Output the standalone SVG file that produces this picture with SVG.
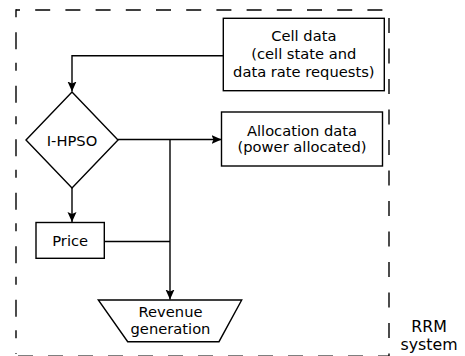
<svg xmlns="http://www.w3.org/2000/svg" width="465" height="356" viewBox="0 0 465 356">
<style>
  .box { fill: #fff; stroke: #000; stroke-width: 1.4; }
  .dash { fill: none; stroke: #000; stroke-width: 1.4; }
  .conn { fill: none; stroke: #000; stroke-width: 1.4; }
  text { font-family: "DejaVu Sans", "Liberation Sans", sans-serif; font-size: 14.7px; fill: #000; text-anchor: middle; }
  .big { font-size: 15.8px; }
</style>
<defs>
  <marker id="arr" markerUnits="userSpaceOnUse" markerWidth="11" markerHeight="10" refX="10" refY="4.5" orient="auto">
    <path d="M0,0 L10,4.5 L0,9 L2,4.5 z" fill="#000"/>
  </marker>
</defs>
<rect x="0" y="0" width="465" height="356" fill="#fff"/>
<g id="rrm-system">
  <line class="dash" x1="16" y1="10" x2="385" y2="10" stroke-dasharray="15 15.2" stroke-dashoffset="11"/>
  <line class="dash" x1="16" y1="9.3" x2="16" y2="354" stroke-dasharray="8 15 17 13.5" />
  <line class="dash" x1="389" y1="18" x2="389" y2="356" stroke-dasharray="15 15.5"/>
  <line class="dash" x1="18" y1="356.3" x2="389" y2="356.3" stroke-dasharray="15 15" stroke="#888"/>
  <text class="big" x="429" y="332">RRM</text>
  <text class="big" x="429" y="350">system</text>
</g>
<g id="connectors">
  <path class="conn" d="M223.3,55.7 H72 V91.5" marker-end="url(#arr)"/>
  <path class="conn" d="M118,139.5 H221.5" marker-end="url(#arr)"/>
  <path class="conn" d="M170,139.5 V299.5" marker-end="url(#arr)"/>
  <path class="conn" d="M72,188 V222" marker-end="url(#arr)"/>
  <path class="conn" d="M104.3,241.5 H170"/>
</g>
<g id="cell-data">
  <rect class="box" x="223.3" y="18.3" width="161" height="72.4"/>
  <text x="303.8" y="41">Cell data</text>
  <text x="303.8" y="59">(cell state and</text>
  <text x="303.8" y="77">data rate requests)</text>
</g>
<g id="i-hpso">
  <polygon class="box" points="72,92 118,140 72,188 26,140"/>
  <text x="72" y="145.5">I-HPSO</text>
</g>
<g id="allocation-data">
  <rect class="box" x="221.5" y="112" width="161" height="54"/>
  <text x="302" y="136">Allocation data</text>
  <text x="302" y="152">(power allocated)</text>
</g>
<g id="price">
  <rect class="box" x="36" y="222.5" width="68.3" height="35.8"/>
  <text x="70.2" y="246">Price</text>
</g>
<g id="revenue-generation">
  <polygon class="box" points="98.3,300 241.7,300 219,341.7 127.7,341.7"/>
  <text x="170.5" y="317">Revenue</text>
  <text x="170.5" y="334">generation</text>
</g>
</svg>
